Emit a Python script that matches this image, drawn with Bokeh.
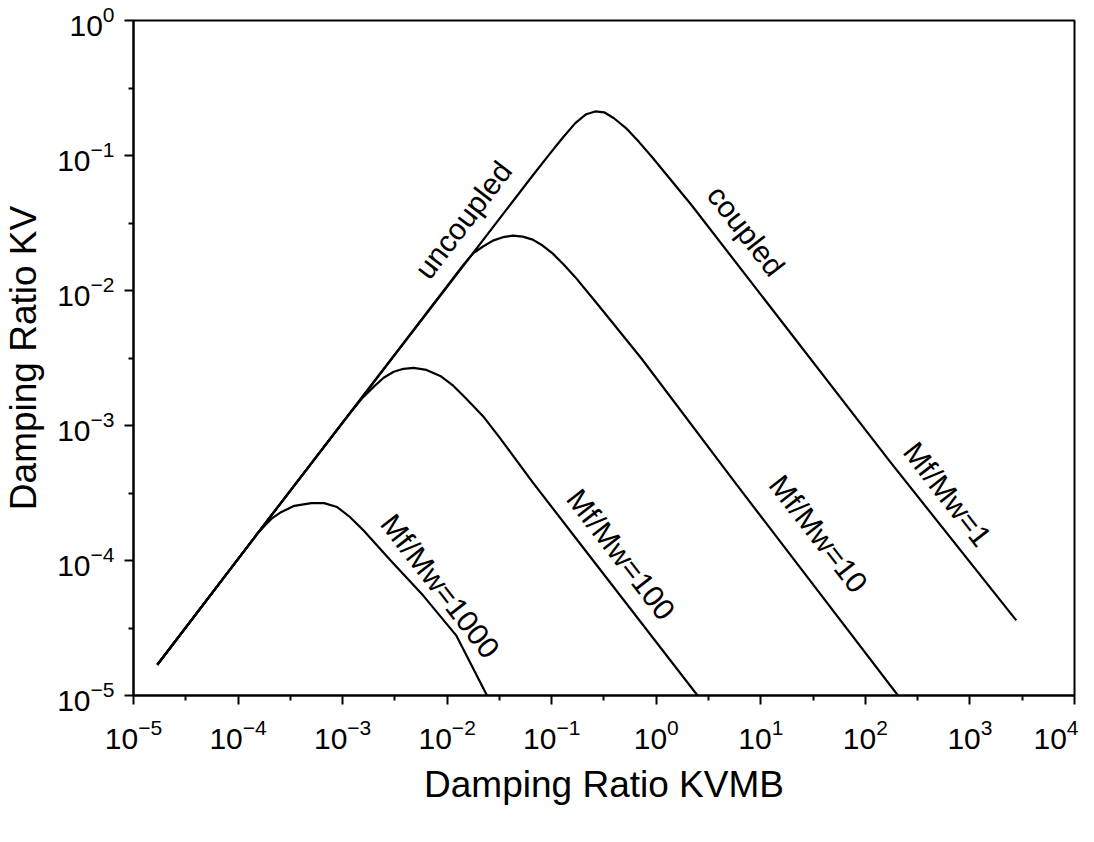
from bokeh.plotting import figure
from bokeh.models import FixedTicker, ColumnDataSource
from bokeh.core.properties import value
from bokeh.embed import file_html
from bokeh.resources import INLINE

# ---- data ----
x_ticks = [1e-5, 1e-4, 1e-3, 1e-2, 1e-1, 1e0, 1e1, 1e2, 1e3, 1e4]
y_ticks = [1e-5, 1e-4, 1e-3, 1e-2, 1e-1, 1e0]
x_minor = [3.16e-5, 3.16e-4, 3.16e-3, 3.16e-2, 3.16e-1, 3.16, 31.6, 316, 3160]
y_minor = [3.16e-5, 3.16e-4, 3.16e-3, 3.16e-2, 3.16e-1]

# Mf/Mw = 1
x_r1 = [1.69e-5, 1.72e-4, 0.0658, 0.0912, 0.1268, 0.168, 0.2138, 0.261, 0.317, 0.394,
        0.513, 0.682, 0.906, 2.17, 172, 2773]
y_r1 = [1.69e-5, 1.78e-4, 0.0711, 0.0980, 0.1349, 0.1738, 0.2023, 0.212, 0.2089, 0.1888,
        0.1596, 0.1262, 0.0980, 0.0430, 5.40e-4, 3.60e-5]

# Mf/Mw = 10
x_r10 = [1.69e-5, 1.72e-4, 0.01422, 0.01770, 0.02203, 0.0274, 0.0341, 0.0425, 0.0528, 0.0658,
         0.0818, 0.1019, 0.1294, 0.168, 0.2239, 0.303, 0.728, 5.56, 205]
y_r10 = [1.69e-5, 1.78e-4, 0.01538, 0.01884, 0.02118, 0.0234, 0.02483, 0.0255, 0.02506, 0.0238,
         0.02153, 0.01884, 0.01563, 0.01256, 9.59e-3, 7.21e-3, 3.11e-3, 3.85e-4, 1.0e-5]

# Mf/Mw = 100
x_r100 = [1.69e-5, 1.72e-4, 1.151e-3, 1.528e-3, 1.99e-3, 2.47e-3, 3.08e-3, 3.83e-3, 4.76e-3,
          6.34e-3, 8.59e-3, 0.01143, 0.01517, 0.02203, 0.0319, 0.0658, 0.196, 2.48]
y_r100 = [1.69e-5, 1.78e-4, 1.21e-3, 1.585e-3, 1.94e-3, 2.26e-3, 2.50e-3, 2.63e-3, 2.67e-3,
          2.58e-3, 2.33e-3, 1.97e-3, 1.585e-3, 1.172e-3, 8.09e-4, 3.79e-4, 1.27e-4, 1.0e-5]

# Mf/Mw = 1000
x_r1000 = [1.69e-5, 1.507e-4, 1.795e-4, 2.138e-4, 2.60e-4, 3.45e-4, 5.01e-4, 6.65e-4, 8.85e-4,
           1.175e-3, 1.596e-3, 2.88e-3, 5.93e-3, 0.01219, 0.02404]
y_r1000 = [1.69e-5, 1.556e-4, 1.807e-4, 2.07e-4, 2.29e-4, 2.54e-4, 2.66e-4, 2.66e-4, 2.49e-4,
           2.10e-4, 1.66e-4, 1.00e-4, 5.47e-5, 2.79e-5, 1.0e-5]

lab_text = ["uncoupled", "coupled", "Mf/Mw=1", "Mf/Mw=10", "Mf/Mw=100", "Mf/Mw=1000"]
lab_x = [0.01422, 7.23, 612, 35.7, 0.460, 8.59e-3]
lab_y = [0.0333, 0.0277, 3.10e-4, 1.58e-4, 1.11e-4, 6.47e-5]
lab_angle = [0.918, -0.91, -0.91, -0.91, -0.91, -0.91]

FONT = "Liberation Sans"

p = figure(width=1078, height=820, x_axis_type="log", y_axis_type="log",
           x_range=(1e-5, 1e4), y_range=(1e-5, 1),
           output_backend="svg", toolbar_location=None,
           min_border_left=130, min_border_right=4, min_border_top=20, min_border_bottom=125)

p.background_fill_color = "white"
p.border_fill_color = "white"
p.outline_line_color = "black"
p.outline_line_width = 2
p.grid.visible = False

p.xaxis.ticker = FixedTicker(ticks=x_ticks, minor_ticks=x_minor)
p.yaxis.ticker = FixedTicker(ticks=y_ticks, minor_ticks=y_minor)

for ax in (p.xaxis[0], p.yaxis[0]):
    ax.axis_line_width = 2
    ax.axis_line_color = "black"
    ax.major_tick_line_width = 2
    ax.minor_tick_line_width = 2
    ax.major_tick_line_color = "black"
    ax.minor_tick_line_color = "black"
    ax.major_tick_in = 0
    ax.major_tick_out = 9
    ax.minor_tick_in = 0
    ax.minor_tick_out = 5
    ax.major_label_text_font = FONT
    ax.major_label_text_font_size = "30px"
    ax.major_label_text_color = "black"
    ax.axis_label_text_font = FONT
    ax.axis_label_text_font_size = "37px"
    ax.axis_label_text_font_style = "normal"
    ax.axis_label_text_color = "black"

p.xaxis.axis_label = "Damping Ratio KVMB"
p.yaxis.axis_label = "Damping Ratio KV"
p.xaxis.major_label_standoff = 14
p.yaxis.major_label_standoff = 10
p.xaxis.axis_label_standoff = 12
p.yaxis.axis_label_standoff = 10

for xs, ys in ((x_r1, y_r1), (x_r10, y_r10), (x_r100, y_r100), (x_r1000, y_r1000)):
    p.line(xs, ys, line_color="black", line_width=2.2, line_join="round")

src = ColumnDataSource(dict(x=lab_x, y=lab_y, text=lab_text, angle=lab_angle))
p.text(x="x", y="y", text="text", angle="angle", source=src,
       text_align="center", text_baseline="middle",
       text_font=value(FONT), text_font_size="30px", text_color="black")

open("out.html", "w").write(file_html(p, INLINE))
